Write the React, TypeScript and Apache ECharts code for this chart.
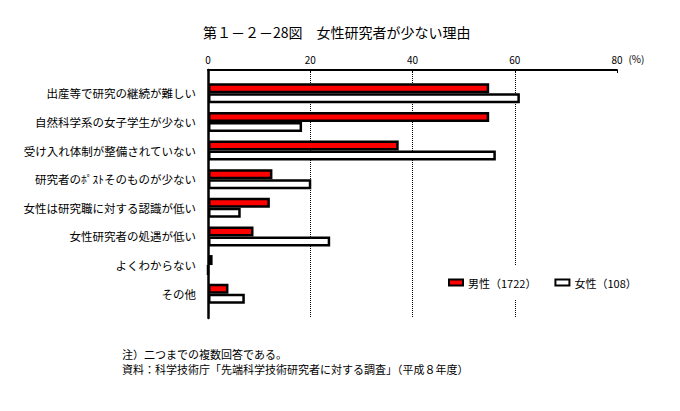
import React, { useEffect, useRef } from "react";
import * as echarts from "echarts";

const categories = [
  "出産等で研究の継続が難しい",
  "自然科学系の女子学生が少ない",
  "受け入れ体制が整備されていない",
  "研究者のﾎﾟｽﾄそのものが少ない",
  "女性は研究職に対する認識が低い",
  "女性研究者の処遇が低い",
  "よくわからない",
  "その他",
];
const maleValues = [55, 55, 37.3, 12.6, 12.1, 8.9, 0.9, 4.0];
const femaleValues = [61, 18.4, 56.3, 20.2, 6.4, 23.9, 0, 7.2];
const seriesNames = ["男性（1722）", "女性（108）"];
const xTicks = { min: 0, max: 80, interval: 20 };
const titleText = "第１－２－28図　女性研究者が少ない理由";
const noteLines = [
  "注）二つまでの複数回答である。",
  "資料：科学技術庁「先端科学技術研究者に対する調査」（平成８年度）",
];

const FONT = "'Noto Sans CJK JP', 'Noto Sans', sans-serif";

export default function App() {
  const ref = useRef<HTMLDivElement>(null);
  useEffect(() => {
    if (!ref.current) return;
    const chart = echarts.init(ref.current, null, { renderer: "svg" });
    chart.setOption({
      animation: false,
      backgroundColor: "#fff",
      textStyle: { fontFamily: FONT, color: "#000" },
      title: [
        {
          text: titleText,
          left: 198,
          top: 20,
          textStyle: { fontSize: 14, fontWeight: "normal", color: "#000", fontFamily: FONT },
        },
        {
          text: noteLines.join("\n"),
          left: 122,
          top: 346,
          padding: 0,
          textStyle: {
            fontSize: 11,
            fontWeight: "normal",
            color: "#000",
            lineHeight: 15,
            fontFamily: FONT,
          },
        },
      ],
      legend: {
        data: seriesNames,
        left: 440,
        top: 266,
        orient: "horizontal",
        icon: "rect",
        itemWidth: 14,
        itemHeight: 6,
        itemGap: 18,
        backgroundColor: "#fff",
        padding: [11, 8, 11, 8],
        itemStyle: { borderColor: "#000", borderWidth: 2 },
        textStyle: { fontSize: 11, color: "#000", fontFamily: FONT },
        z: 10,
      },
      grid: [
        { left: 208, right: 63, top: 79, bottom: 103 },
        { left: 208, right: 63, top: 70, bottom: 93 },
      ],
      xAxis: [
        {
          gridIndex: 0,
          type: "value",
          min: xTicks.min,
          max: xTicks.max,
          interval: xTicks.interval,
          show: false,
        },
        {
          gridIndex: 1,
          type: "value",
          position: "top",
          min: xTicks.min,
          max: xTicks.max,
          interval: xTicks.interval,
          name: "(%)",
          nameLocation: "end",
          nameGap: 9,
          nameTextStyle: {
            fontSize: 10,
            color: "#000",
            verticalAlign: "bottom",
            padding: [0, 0, 7, 0],
          },
          axisLine: { show: true, onZero: false, lineStyle: { color: "#000", width: 2 } },
          axisTick: { show: true, inside: true, length: 3, lineStyle: { color: "#000" } },
          axisLabel: { fontSize: 10, color: "#000", margin: 6 },
          splitLine: {
            show: true,
            showMinLine: false,
            showMaxLine: false,
            lineStyle: { type: "dotted", color: "#000", width: 1 },
          },
        },
      ],
      yAxis: [
        {
          gridIndex: 0,
          type: "category",
          inverse: true,
          data: categories,
          axisLine: { show: false },
          axisTick: { show: false },
          axisLabel: { fontSize: 11.5, color: "#000", margin: 12 },
        },
        {
          gridIndex: 1,
          type: "value",
          min: 0,
          max: 1,
          axisLine: { show: true, onZero: false, lineStyle: { color: "#000", width: 2.5 } },
          axisTick: { show: false },
          axisLabel: { show: false },
          splitLine: { show: false },
        },
      ],
      series: [
        {
          name: seriesNames[0],
          type: "bar",
          xAxisIndex: 0,
          yAxisIndex: 0,
          data: maleValues,
          barWidth: 10,
          barGap: "0%",
          itemStyle: { color: "#ff0000", borderColor: "#000", borderWidth: 2.5 },
          z: 3,
        },
        {
          name: seriesNames[1],
          type: "bar",
          xAxisIndex: 0,
          yAxisIndex: 0,
          data: femaleValues,
          barWidth: 10,
          barGap: "0%",
          itemStyle: { color: "#ffffff", borderColor: "#000", borderWidth: 2.5 },
          z: 3,
        },
      ],
    });
    return () => chart.dispose();
  }, []);
  return (
    <div
      ref={ref}
      style={{ position: "fixed", left: 0, top: 0, width: 680, height: 411 }}
    />
  );
}
